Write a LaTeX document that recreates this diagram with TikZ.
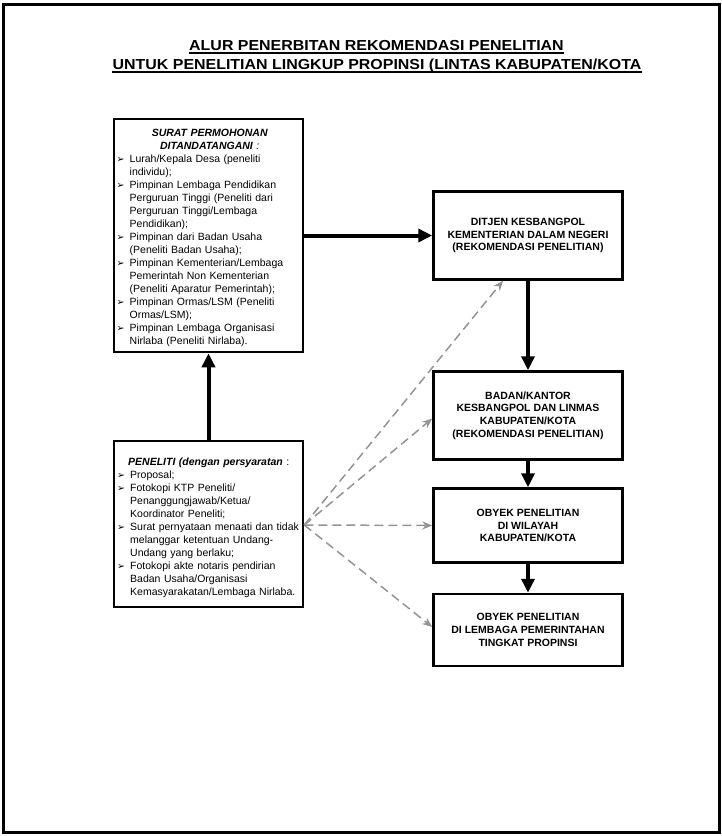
\documentclass[tikz,border=0pt]{standalone}
\usepackage{fontspec}
\setmainfont{Liberation Sans}
\newfontfamily\titlefont[FakeStretch=1.1]{Liberation Sans}
\newfontfamily\dingfont{DejaVu Sans}
\usetikzlibrary{arrows.meta}
\newcommand\bulsym{{\dingfont\fontsize{9.5}{9.5}\selectfont ➢}}
\newcommand\itm[1]{\par\noindent\hangindent=13pt\hangafter=1\makebox[13pt][l]{\bulsym}#1\par}
\tikzset{
  box/.style={draw=black, line width=2.5pt, fill=white, minimum width=189pt, inner sep=0pt},
  rbox/.style={box, align=center, font=\bfseries\fontsize{10.5}{12.8}\selectfont},
  txt/.style={inner sep=0pt, anchor=north west, font=\fontsize{10.5}{13}\selectfont},
  thick arrow/.style={line width=4pt, -{Triangle[length=14pt,width=13pt]}},
  dash arrow/.style={draw=black!42, line width=1.5pt, dash pattern=on 9pt off 5pt, -{Stealth[length=10pt,width=8pt]}},
  ttl/.style={inner sep=0pt, anchor=base, font=\titlefont\bfseries\fontsize{14.5}{17}\selectfont}
}
\begin{document}
\begin{tikzpicture}[x=1pt,y=-1pt]
\useasboundingbox (0,0) rectangle (722,836);
\draw[line width=3pt] (3.5,4.5) rectangle (719,832);
% title
\node[ttl] (t1) at (376.5,50) {ALUR PENERBITAN REKOMENDASI PENELITIAN};
\node[ttl] (t2) at (377,69) {UNTUK PENELITIAN LINGKUP PROPINSI (LINTAS KABUPATEN/KOTA};
\draw[line width=1.3pt] ([yshift=-3pt]t1.base west) -- ([yshift=-3pt]t1.base east);
\draw[line width=1.3pt] ([yshift=-3pt]t2.base west) -- ([yshift=-3pt]t2.base east);
% left boxes
\node[box, minimum height=233pt] (surat) at (208.5,235.5) {};
\node[txt, text width=186pt] (surattxt) at (116.5,129) {\hyphenpenalty=10000\raggedright
\centerline{\bfseries\itshape SURAT PERMOHONAN}
\centerline{\bfseries\itshape DITANDATANGANI\mdseries\ :}
\itm{Lurah/Kepala Desa (peneliti\newline individu);}
\itm{Pimpinan Lembaga Pendidikan\newline Perguruan Tinggi (Peneliti dari\newline Perguruan Tinggi/Lembaga\newline Pendidikan);}
\itm{Pimpinan dari Badan Usaha\newline (Peneliti Badan Usaha);}
\itm{Pimpinan Kementerian/Lembaga\newline Pemerintah Non Kementerian\newline (Peneliti Aparatur Pemerintah);}
\itm{Pimpinan Ormas/LSM (Peneliti\newline Ormas/LSM);}
\itm{Pimpinan Lembaga Organisasi\newline Nirlaba (Peneliti Nirlaba).}};
\node[box, minimum height=166pt] (penel) at (208.5,524) {};
\node[txt, text width=188pt] (peneltxt) at (117,458) {\hyphenpenalty=10000\raggedright
\noindent\hspace*{11pt}{\bfseries\itshape PENELITI (dengan persyaratan} :\par
\itm{Proposal;}
\itm{Fotokopi KTP Peneliti/\newline Penanggungjawab/Ketua/\newline Koordinator Peneliti;}
\itm{Surat pernyataan menaati dan tidak\newline melanggar ketentuan Undang-\newline Undang yang berlaku;}
\itm{Fotokopi akte notaris pendirian\newline Badan Usaha/Organisasi\newline Kemasyarakatan/Lembaga Nirlaba.}};
% right boxes
\node[rbox, minimum height=88pt] (ditjen) at (528,235.5) {DITJEN KESBANGPOL\\KEMENTERIAN DALAM NEGERI\\(REKOMENDASI PENELITIAN)};
\node[rbox, minimum height=88pt] (badan) at (528,415.5) {BADAN/KANTOR\\KESBANGPOL DAN LINMAS\\KABUPATEN/KOTA\\(REKOMENDASI PENELITIAN)};
\node[rbox, minimum height=74pt] (obyek1) at (528,525.5) {OBYEK PENELITIAN\\DI WILAYAH\\KABUPATEN/KOTA};
\node[rbox, minimum height=72pt] (obyek2) at (528,630) {OBYEK PENELITIAN\\DI LEMBAGA PEMERINTAHAN\\TINGKAT PROPINSI};
% thick arrows
\draw[thick arrow] (penel.north) -- (surat.south);
\draw[thick arrow] (surat.east) -- (ditjen.west);
\draw[thick arrow] (ditjen.south) -- (badan.north);
\draw[thick arrow] (badan.south) -- (obyek1.north);
\draw[thick arrow] (obyek1.south) -- (obyek2.north);
% dashed arrows
\coordinate (src) at ([yshift=-1pt]penel.east);
\draw[dash arrow] (src) -- ([xshift=-25pt]ditjen.south);
\draw[dash arrow] (src) -- ([yshift=-3pt]badan.west);
\draw[dash arrow] (src) -- (obyek1.west);
\draw[dash arrow] (src) -- ([yshift=3pt]obyek2.west);
\end{tikzpicture}
\end{document}
